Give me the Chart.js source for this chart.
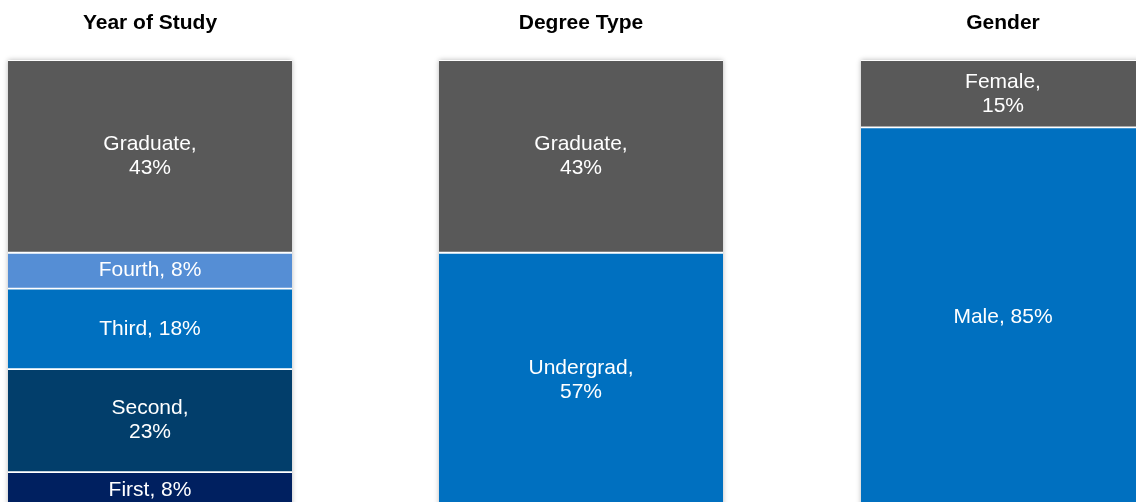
<!DOCTYPE html>
<html>
<head>
<meta charset="utf-8">
<script src="https://cdn.jsdelivr.net/npm/chart.js@4.4.1/dist/chart.umd.min.js"></script>
<style>
  html, body { margin: 0; padding: 0; background: #fff; overflow: hidden; width: 1136px; height: 502px; }
  canvas { position: absolute; top: 0; }
</style>
</head>
<body>
<canvas id="year" width="300" height="508" style="left:0px"></canvas>
<canvas id="degree" width="300" height="508" style="left:431px"></canvas>
<canvas id="gender" width="300" height="508" style="left:853px"></canvas>
<script>
// segments listed bottom to top
const yearNames = ["First", "Second", "Third", "Fourth", "Graduate"]
const yearValues = [8, 23, 18, 8, 43]
const yearColors = ["#002060", "#023E6B", "#0070C0", "#558ED5", "#595959"]

const degreeNames = ["Undergrad", "Graduate"]
const degreeValues = [57, 43]
const degreeColors = ["#0070C0", "#595959"]

const genderNames = ["Male", "Female"]
const genderValues = [85, 15]
const genderColors = ["#0070C0", "#595959"]

const FONT = "'Liberation Sans', Arial, sans-serif"

// soft shadow behind the whole bar
const shadowPlugin = {
    id: "barShadow",
    beforeDatasetsDraw(chart) {
        const {ctx, chartArea} = chart
        ctx.save()
        ctx.shadowColor = "rgba(0,0,0,0.28)"
        ctx.shadowBlur = 5
        ctx.fillStyle = "#fff"
        ctx.fillRect(chartArea.left, chartArea.top, chartArea.right - chartArea.left, chartArea.bottom - chartArea.top)
        ctx.restore()
    }
}

// "Name, NN%" label in the middle of each segment, wrapped when long
const labelPlugin = {
    id: "segLabels",
    afterDatasetsDraw(chart) {
        const ctx = chart.ctx
        ctx.save()
        ctx.font = "21px " + FONT
        ctx.fillStyle = "#fff"
        ctx.textAlign = "center"
        ctx.textBaseline = "middle"
        chart.data.datasets.forEach((ds, i) => {
            const el = chart.getDatasetMeta(i).data[0]
            const p = el.getProps(["x", "y", "base"], true)
            const full = ds.label + ", " + ds.data[0] + "%"
            const lines = ctx.measureText(full).width > 110 ? [ds.label + ",", ds.data[0] + "%"] : [full]
            const lh = 24
            const cy = (p.y + p.base) / 2
            lines.forEach((t, k) => {
                ctx.fillText(t, p.x, cy + (k - (lines.length - 1) / 2) * lh)
            })
        })
        ctx.restore()
    }
}

function makeChart(id, title, names, values, colors) {
    const ctx = document.getElementById(id).getContext("2d")
    new Chart(ctx, {
        type: "bar",
        data: {
            labels: [""],
            datasets: names.map((n, i) => ({
                label: n,
                data: [values[i]],
                backgroundColor: colors[i],
                borderColor: "#fff",
                borderWidth: {top: 1.25, bottom: 1.25, left: 0, right: 0},
                borderSkipped: false,
                barPercentage: 1,
                categoryPercentage: 1
            }))
        },
        options: {
            responsive: false,
            animation: false,
            layout: {padding: {left: 8, right: 8, top: 0, bottom: 0}},
            plugins: {
                legend: {display: false},
                tooltip: {enabled: false},
                title: {
                    display: true,
                    text: title,
                    color: "#000",
                    font: {family: FONT, size: 21, weight: "bold"},
                    padding: {top: 11, bottom: 24}
                }
            },
            scales: {
                x: {stacked: true, display: false},
                y: {stacked: true, display: false, min: 0, max: 100}
            }
        },
        plugins: [shadowPlugin, labelPlugin]
    })
}

makeChart("year", "Year of Study", yearNames, yearValues, yearColors)
makeChart("degree", "Degree Type", degreeNames, degreeValues, degreeColors)
makeChart("gender", "Gender", genderNames, genderValues, genderColors)
</script>
</body>
</html>
